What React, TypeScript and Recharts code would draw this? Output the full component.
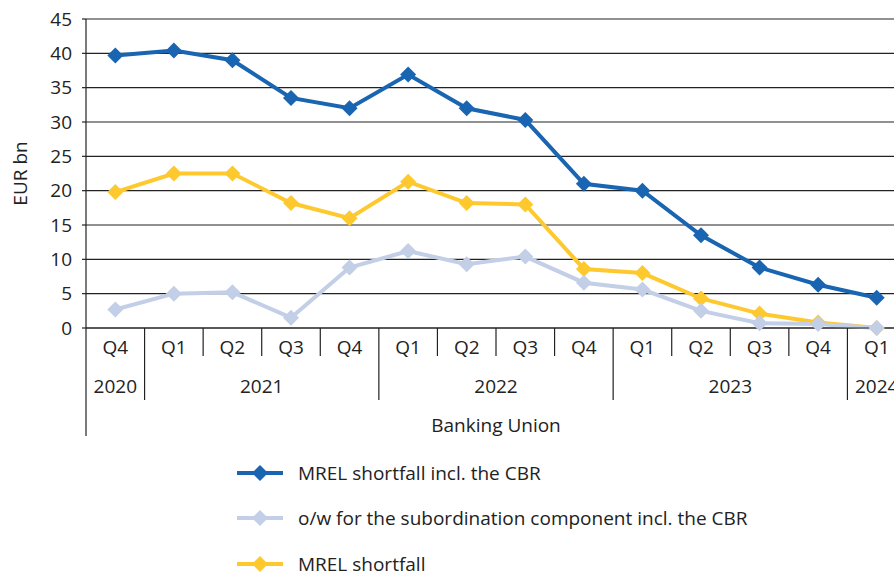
import { LineChart, Line, XAxis, YAxis, CartesianGrid, Legend } from 'recharts'

// quarters on the x axis, with the year each one belongs to
const quarters = ['Q4', 'Q1', 'Q2', 'Q3', 'Q4', 'Q1', 'Q2', 'Q3', 'Q4', 'Q1', 'Q2', 'Q3', 'Q4', 'Q1']
const years = ['2020', '2021', '2021', '2021', '2021', '2022', '2022', '2022', '2022', '2023', '2023', '2023', '2023', '2024']

// EUR bn
const mrelInclCbr = [39.7, 40.4, 39.0, 33.5, 32.0, 36.9, 32.0, 30.3, 21.0, 20.0, 13.5, 8.8, 6.3, 4.4]
const subordinationInclCbr = [2.7, 5.0, 5.2, 1.5, 8.8, 11.2, 9.3, 10.4, 6.6, 5.6, 2.5, 0.7, 0.6, 0.0]
const mrelShortfall = [19.8, 22.5, 22.5, 18.2, 16.0, 21.3, 18.2, 18.0, 8.6, 8.0, 4.3, 2.1, 0.8, 0.0]

const yTicks = [0, 5, 10, 15, 20, 25, 30, 35, 40, 45]
const groupLabel = 'Banking Union'

const series = [
  { key: 'cbr', name: 'MREL shortfall incl. the CBR', color: '#1a65b1' },
  { key: 'sub', name: 'o/w for the subordination component incl. the CBR', color: '#c3cee7' },
  { key: 'mrel', name: 'MREL shortfall', color: '#fdc92f' },
]

const data = quarters.map((q, i) => ({
  q,
  year: years[i],
  cbr: mrelInclCbr[i],
  sub: subordinationInclCbr[i],
  mrel: mrelShortfall[i],
}))

const FONT = '"Open Sans", sans-serif'
const TEXT = '#222'
const CHART_W = 920
const CHART_H = 575
const MARGIN = { top: 19, right: 14, left: 0, bottom: 0 }
const Y_W = 86
const PLOT_W = CHART_W - MARGIN.left - MARGIN.right - Y_W
const BAND = PLOT_W / data.length

const Diamond = (props: any) => {
  const { cx, cy, fill } = props
  if (cx == null || cy == null) return null
  const r = 8
  return <polygon points={`${cx},${cy - r} ${cx + r},${cy} ${cx},${cy + r} ${cx - r},${cy}`} fill={fill} />
}

const QuarterTick = (props: any) => {
  const { x, y, payload } = props
  const i = payload.index
  const row = data[i]
  const left = x - BAND / 2
  const firstOfYear = i === 0 || data[i - 1].year !== row.year
  const count = data.filter((d) => d.year === row.year).length
  const sepLen = i === 0 ? 108 : firstOfYear ? 72 : 28
  return (
    <g>
      <line x1={left} x2={left} y1={y} y2={y + sepLen} stroke="#222" strokeWidth={1.2} />
      <text x={x} y={y + 26} textAnchor="middle" fontSize={19} fontFamily={FONT} fill={TEXT}>
        {row.q}
      </text>
      {firstOfYear && (
        <text x={left + (count * BAND) / 2} y={y + 65} textAnchor="middle" fontSize={19} fontFamily={FONT} fill={TEXT}>
          {row.year}
        </text>
      )}
      {i === 0 && (
        <text x={left + PLOT_W / 2} y={y + 104} textAnchor="middle" fontSize={19} fontFamily={FONT} fill={TEXT}>
          {groupLabel}
        </text>
      )}
    </g>
  )
}

const YLabel = (props: any) => {
  const vb = props.viewBox || {}
  const cx = 20
  const cy = (vb.y ?? MARGIN.top) + (vb.height ?? 308) / 2
  return (
    <text
      x={cx}
      y={cy}
      transform={`rotate(-90 ${cx} ${cy})`}
      textAnchor="middle"
      dominantBaseline="central"
      fontSize={19}
      fontFamily={FONT}
      fill={TEXT}
    >
      EUR bn
    </text>
  )
}

const LegendContent = () => (
  <div style={{ fontFamily: FONT, fontSize: 19, color: TEXT }}>
    {series.map((s) => (
      <div key={s.key} style={{ display: 'flex', alignItems: 'center', height: 45.5 }}>
        <svg width={46} height={20}>
          <line x1={0} x2={46} y1={10} y2={10} stroke={s.color} strokeWidth={4} />
          <polygon points="23,2 31,10 23,18 15,10" fill={s.color} />
        </svg>
        <span style={{ marginLeft: 15 }}>{s.name}</span>
      </div>
    ))}
  </div>
)

export default function App() {
  return (
    <div style={{ position: 'absolute', left: 0, top: 0, width: 894, height: 575, overflow: 'hidden', background: '#fff' }}>
      <LineChart width={CHART_W} height={CHART_H} data={data} margin={MARGIN}>
        <CartesianGrid vertical={false} stroke="#222" strokeWidth={1.2} />
        <XAxis
          dataKey="q"
          interval={0}
          height={122}
          padding={{ left: BAND / 2, right: BAND / 2 }}
          tickLine={false}
          tickSize={0}
          tickMargin={0}
          axisLine={{ stroke: '#222', strokeWidth: 1.2 }}
          tick={<QuarterTick />}
        />
        <YAxis
          width={Y_W}
          domain={[0, 45]}
          ticks={yTicks}
          interval={0}
          tickSize={4}
          tickMargin={10}
          tickLine={{ stroke: '#222', strokeWidth: 1.2 }}
          axisLine={{ stroke: '#222', strokeWidth: 1.2 }}
          tick={{ fontSize: 19, fontFamily: FONT, fill: TEXT }}
          label={<YLabel />}
        />
        <Legend
          verticalAlign="bottom"
          content={<LegendContent />}
          wrapperStyle={{ left: 237, top: 450, width: 620, height: 125 }}
        />
        {[series[2], series[1], series[0]].map((s) => (
          <Line
            key={s.key}
            dataKey={s.key}
            name={s.name}
            stroke={s.color}
            strokeWidth={4}
            dot={<Diamond fill={s.color} />}
            activeDot={false}
            isAnimationActive={false}
          />
        ))}
      </LineChart>
    </div>
  )
}
